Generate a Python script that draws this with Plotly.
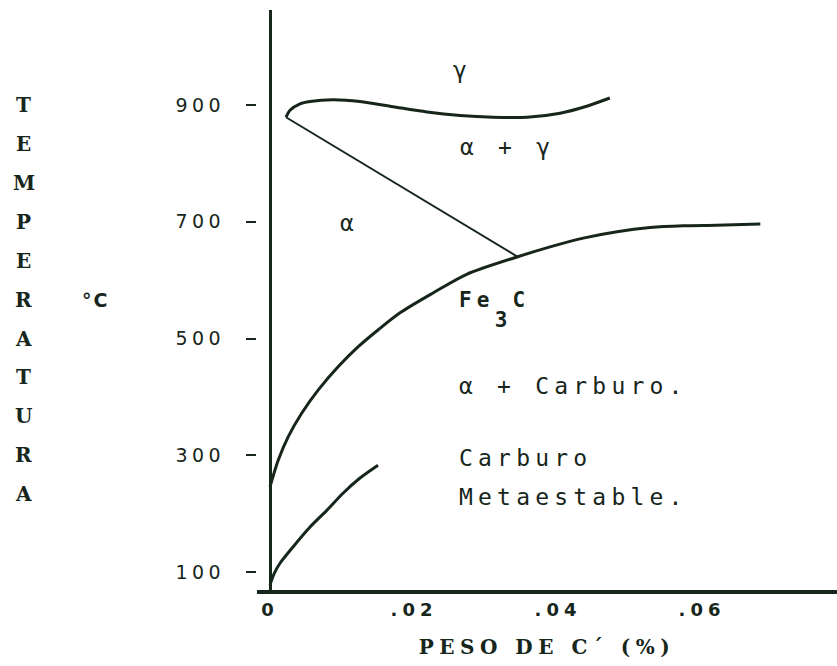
import plotly.graph_objects as go

# ---- data ----
upper_x = [0.00222, 0.00278, 0.00417, 0.00556, 0.00875, 0.0125, 0.01708, 0.0218, 0.0264, 0.031, 0.0357, 0.0403, 0.04375, 0.0472]
upper_y = [879, 891, 902, 906, 909, 906, 897, 888, 882, 879, 879, 886, 897, 912]

tie_x = [0.00222, 0.0344]
tie_y = [879, 640]

solvus_x = [0, 0.00115, 0.00254, 0.0044, 0.00671, 0.00949, 0.01226, 0.01504, 0.01806, 0.02264, 0.02732, 0.0344, 0.0389, 0.0435, 0.0482, 0.0528, 0.0574, 0.062, 0.0681]
solvus_y = [246, 292, 332, 372, 412, 452, 486, 515, 544, 578, 610, 640, 657, 672, 683, 690, 693, 694, 696]

meta_x = [0, 0.00056, 0.00139, 0.0032, 0.00556, 0.00792, 0.01014, 0.0125, 0.015]
meta_y = [78, 97, 115, 143, 177, 206, 235, 261, 283]

x_ticks = [0, 0.02, 0.04, 0.06]
x_ticktext = ["0", ".02", ".04", ".06"]
y_ticks = [100, 300, 500, 700, 900]
y_ticktext = ["100", "300", "500", "700", "900"]

region_labels = [
    ("γ", 0.02667, 960, "center"),
    ("α + γ", 0.0261, 828, "left"),
    ("α", 0.0111, 698, "center"),
    ('Fe<span style="baseline-shift:-20px">3</span>C', 0.0260, 549, "left"),
    ("α + Carburo.", 0.0260, 419, "left"),
    ("Carburo", 0.0260, 295, "left"),
    ("Metaestable.", 0.0260, 228, "left"),
]

y_title_letters = list("TEMPERATURA")
x_title = "PESO DE C´ (%)"
unit_label = "°C"

INK = "#17261b"
MONO = "DejaVu Sans Mono"
SANS = "DejaVu Sans"
SERIF = "DejaVu Serif"

L = 257  # left margin px
PLOT_W = 837 - L

fig = go.Figure()
fig.add_trace(go.Scatter(x=upper_x, y=upper_y, mode="lines", line=dict(color=INK, width=3, shape="spline", smoothing=0.8), hoverinfo="skip"))
fig.add_trace(go.Scatter(x=tie_x, y=tie_y, mode="lines", line=dict(color=INK, width=2), hoverinfo="skip"))
fig.add_trace(go.Scatter(x=solvus_x, y=solvus_y, mode="lines", line=dict(color=INK, width=3, shape="spline", smoothing=0.8), hoverinfo="skip"))
fig.add_trace(go.Scatter(x=meta_x, y=meta_y, mode="lines", line=dict(color=INK, width=3, shape="spline", smoothing=0.8), hoverinfo="skip"))

def spaced(t, px):
    return '<span style="letter-spacing:%spx">%s</span>' % (px, t)

for txt, x, y, anchor in region_labels:
    bold = txt.startswith("Fe")
    fig.add_annotation(x=x, y=y, xref="x", yref="y", text=spaced(txt, 5.2), showarrow=False,
                       xanchor=anchor, yanchor="middle",
                       font=dict(family=MONO, size=23 if not bold else 21, color=INK, weight="bold" if bold else "normal"))

for i, ch in enumerate(y_title_letters):
    fig.add_annotation(x=(24 - L) / PLOT_W, y=900 - i * 200 / 3, xref="paper", yref="y", text=ch, showarrow=False,
                       xanchor="center", yanchor="middle",
                       font=dict(family=SERIF, size=20, color=INK, weight="bold"))

fig.add_annotation(x=(95 - L) / PLOT_W, y=900 - 5 * 200 / 3, xref="paper", yref="y", text=spaced(unit_label, 2), showarrow=False,
                   xanchor="center", yanchor="middle", font=dict(family=SANS, size=19, color=INK, weight="bold"))

fig.update_layout(
    width=837, height=666,
    margin=dict(l=L, r=0, t=10, b=76),
    paper_bgcolor="white", plot_bgcolor="white",
    showlegend=False,
    xaxis=dict(range=[(L - 270) / 7200, (837 - 270) / 7200], showgrid=False, zeroline=True, zerolinecolor=INK, zerolinewidth=3,
               showline=True, linecolor=INK, linewidth=4, ticks="",
               tickvals=x_ticks, ticktext=[spaced(t, 5) for t in x_ticktext],
               tickfont=dict(family=SANS, size=18, color=INK, weight="bold"),
               title=dict(text=spaced(x_title, 5.5), standoff=22,
                          font=dict(family=SERIF, size=20, color=INK, weight="bold"))),
    yaxis=dict(range=[69.2, 1062.7], showgrid=False, zeroline=False, showline=False,
               ticks="outside", ticklen=10, tickwidth=2, tickcolor=INK, ticklabelstandoff=17,
               tickvals=y_ticks, ticktext=[spaced(t, 4.5) for t in y_ticktext],
               tickfont=dict(family=SANS, size=19, color=INK)),
)

fig.write_html("out.html")
